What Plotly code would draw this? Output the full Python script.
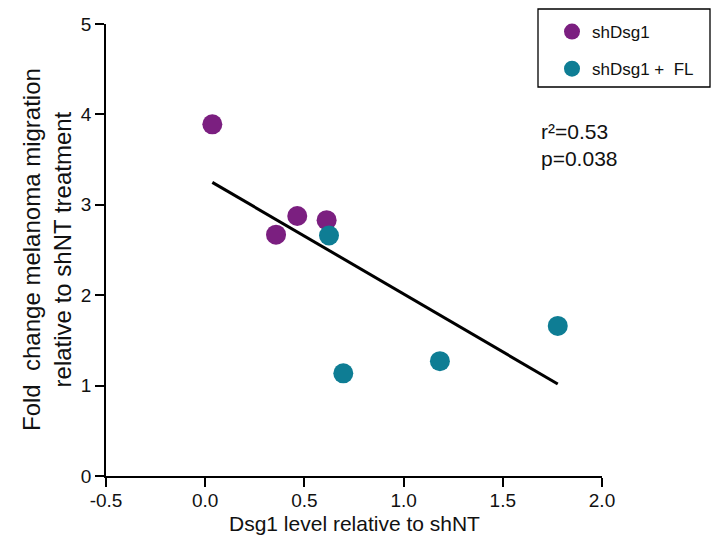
import numpy as np
import plotly.graph_objects as go

# Data
sh_x = [0.036, 0.357, 0.464, 0.612]
sh_y = [3.89, 2.67, 2.876, 2.83]
fl_x = [0.624, 0.696, 1.183, 1.777]
fl_y = [2.66, 1.136, 1.27, 1.66]
series_names = ["shDsg1", "shDsg1 +\u00a0 FL"]
x_ticks = [-0.5, 0.0, 0.5, 1.0, 1.5, 2.0]
x_tick_labels = ["-0.5", "0.0", "0.5", "1.0", "1.5", "2.0"]
y_ticks = [0, 1, 2, 3, 4, 5]
stats_lines = ["r²=0.53", "p=0.038"]

PURPLE = "#7B1F80"
TEAL = "#0E7D94"
FONT = "Liberation Sans, Arial, sans-serif"

# plot-area geometry in pixels
L, R, T, B = 106, 602, 24, 476
PW, PH = R - L, B - T


def px(xp):
    return (xp - L) / PW


def py(yp):
    return (B - yp) / PH


all_x = np.array(sh_x + fl_x)
all_y = np.array(sh_y + fl_y)
slope, intercept = np.polyfit(all_x, all_y, 1)
fit_x = np.array([all_x.min(), all_x.max()])
fit_y = slope * fit_x + intercept

fig = go.Figure()
fig.add_trace(go.Scatter(x=fit_x, y=fit_y, mode="lines",
                         line=dict(color="black", width=3), showlegend=False,
                         hoverinfo="skip"))
fig.add_trace(go.Scatter(x=sh_x, y=sh_y, mode="markers", name=series_names[0],
                         legendgroup="a",
                         marker=dict(color=PURPLE, size=20)))
fig.add_trace(go.Scatter(x=fl_x, y=fl_y, mode="markers", name=series_names[1],
                         legendgroup="b",
                         marker=dict(color=TEAL, size=20)))

axis_common = dict(showline=True, linecolor="black", linewidth=1.5,
                   ticks="outside", ticklen=9, tickwidth=1.5, tickcolor="black",
                   showgrid=False, zeroline=False,
                   tickfont=dict(family=FONT, size=19, color="#111"))

fig.update_xaxes(range=[-0.5, 2.0], tickvals=x_ticks, ticktext=x_tick_labels,
                 ticklabelstandoff=-3, **axis_common)
fig.update_yaxes(range=[0, 5], tickvals=y_ticks, **axis_common)

fig.add_annotation(text="Dsg1 level relative to shNT", xref="paper", yref="paper",
                   x=0.5, y=py(523), xanchor="center", yanchor="middle",
                   showarrow=False, font=dict(family=FONT, size=21, color="#111"))
fig.add_annotation(text="Fold\u00a0 change melanoma migration<br>relative to shNT treatment",
                   xref="paper", yref="paper", x=px(47), y=0.5,
                   xanchor="center", yanchor="middle", textangle=-90,
                   showarrow=False, font=dict(family=FONT, size=24, color="#111"))
for i, (line, yc) in enumerate(zip(stats_lines, [131, 159])):
    fig.add_annotation(text=line, xref="paper", yref="paper",
                       x=px(539), y=py(yc), xanchor="left", yanchor="middle",
                       align="left", showarrow=False,
                       font=dict(family=FONT, size=21, color="#111"))

# legend frame
fig.add_shape(type="rect", xref="paper", yref="paper",
              x0=px(538), x1=px(710), y0=py(87), y1=py(9),
              line=dict(color="black", width=1.3), fillcolor="rgba(0,0,0,0)")

fig.update_layout(
    width=713, height=546,
    margin=dict(l=L, r=713 - R, t=T, b=546 - B, autoexpand=False),
    plot_bgcolor="white", paper_bgcolor="white",
    font=dict(family=FONT, color="#111"),
    showlegend=True,
    legend=dict(x=px(552), y=py(14), xanchor="left", yanchor="top",
                borderwidth=0, bgcolor="rgba(0,0,0,0)",
                font=dict(family=FONT, size=17, color="#111"),
                tracegroupgap=12, traceorder="grouped"),
)

fig.write_html("out.html", config={"displayModeBar": False},
               post_script="document.body.style.margin='0';document.body.style.padding='0';")
